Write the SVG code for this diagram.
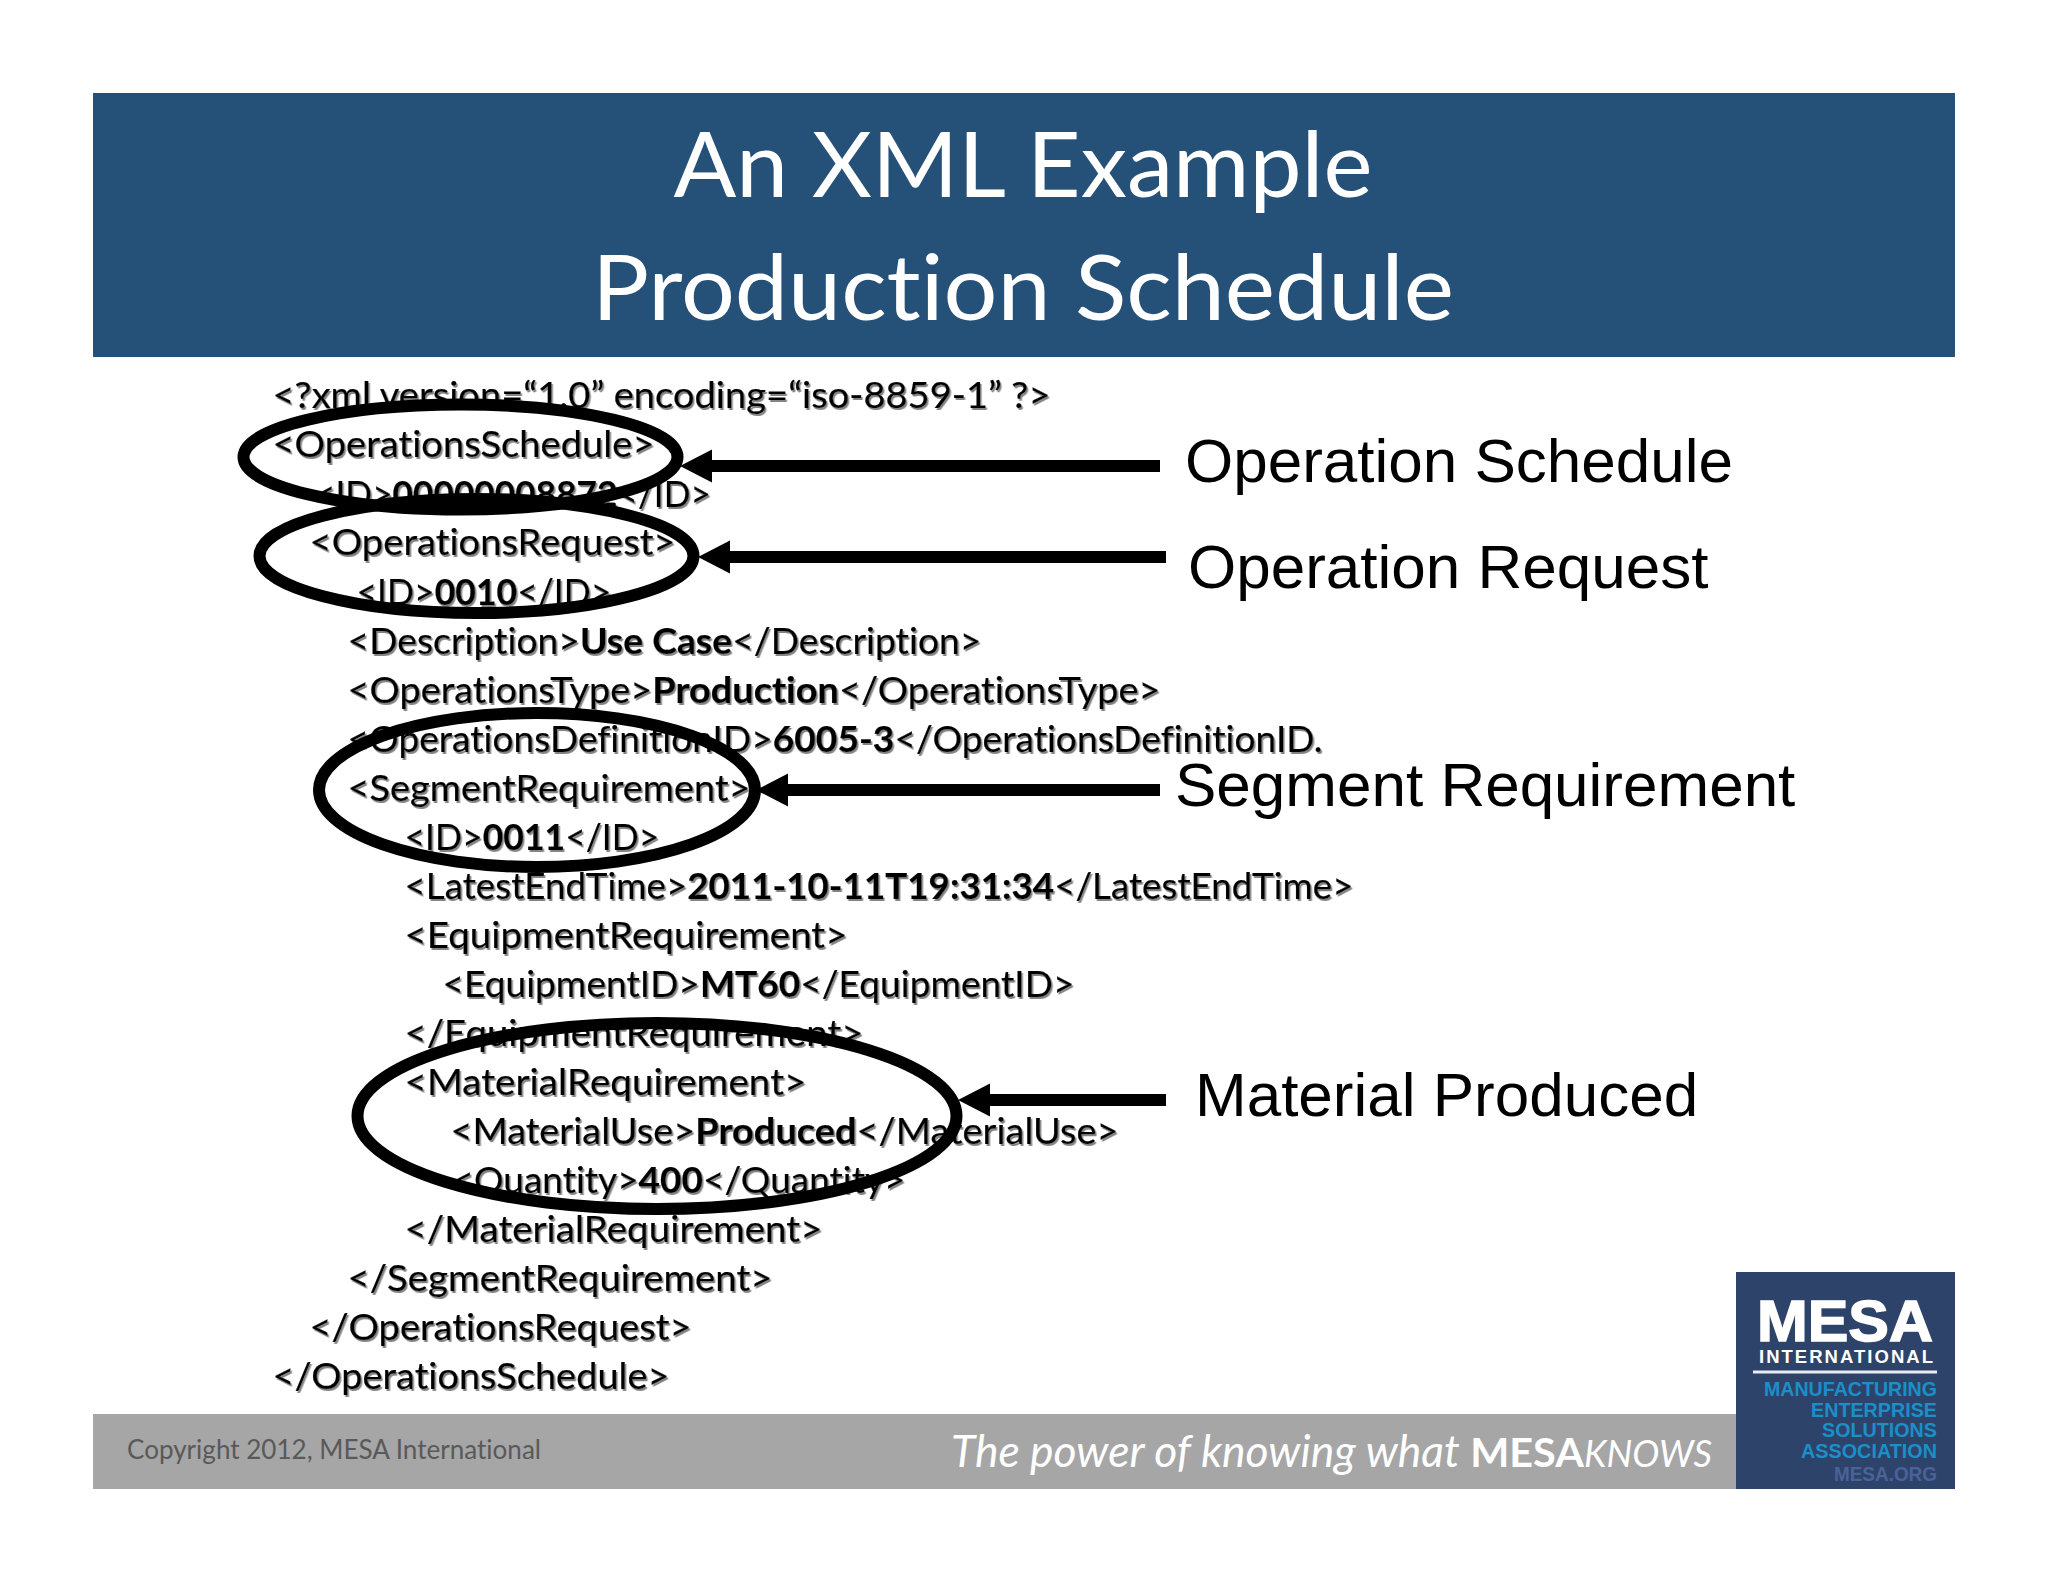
<svg xmlns="http://www.w3.org/2000/svg" width="2048" height="1582" viewBox="0 0 2048 1582">
<style>
text{font-family:"Lato","Carlito","Liberation Sans",sans-serif;font-variant-ligatures:none}
.title{font-size:92px;fill:#fff;text-anchor:middle}
.x{font-size:37px;fill:#000;stroke:#000;stroke-width:.2}
.x tspan{font-weight:700}
.lab{font-family:"Liberation Sans",Arial,sans-serif;font-size:62px;fill:#000}
.ring{fill:none;stroke:#000;stroke-width:12}
.conn{stroke:#000;stroke-width:12;fill:none;marker-end:url(#head)}
.lg{font-family:"Liberation Sans",Arial,sans-serif;font-weight:700}
.bl{font-size:20px;fill:#1a8fc9;text-anchor:end}
</style>
<defs>
<marker id="head" markerUnits="userSpaceOnUse" markerWidth="34" markerHeight="36" refX="1" refY="18" orient="auto"><path d="M0 1.500L32 18L0 34.500Z" fill="#000"/></marker>
<filter id="sh" x="-5%" y="-5%" width="110%" height="110%"><feDropShadow dx="1.500" dy="2" stdDeviation="0.500" flood-color="#777" flood-opacity="0.9"/></filter>
</defs>
<rect width="2048" height="1582" fill="#fff"/>
<g id="header">
<rect x="93" y="93" width="1862" height="264" fill="#255077"/>
<text class="title" x="1023" y="197" textLength="699" lengthAdjust="spacingAndGlyphs">An XML Example</text>
<text class="title" x="1023" y="320" textLength="862" lengthAdjust="spacingAndGlyphs">Production Schedule</text>
</g>
<g id="xml" filter="url(#sh)">
<text class="x" x="272.500" y="408" textLength="778" lengthAdjust="spacingAndGlyphs">&lt;?xml version=“1.0” encoding=“iso-8859-1” ?&gt;</text>
<text class="x" x="272.500" y="457" textLength="382" lengthAdjust="spacingAndGlyphs">&lt;OperationsSchedule&gt;</text>
<text class="x" x="315" y="507" textLength="396" lengthAdjust="spacingAndGlyphs">&lt;ID&gt;<tspan>00000008872</tspan>&lt;/ID&gt;</text>
<text class="x" x="309.500" y="555" textLength="366" lengthAdjust="spacingAndGlyphs">&lt;OperationsRequest&gt;</text>
<text class="x" x="356.500" y="605" textLength="255" lengthAdjust="spacingAndGlyphs">&lt;ID&gt;<tspan>0010</tspan>&lt;/ID&gt;</text>
<text class="x" x="347.500" y="654" textLength="634" lengthAdjust="spacingAndGlyphs">&lt;Description&gt;<tspan>Use Case</tspan>&lt;/Description&gt;</text>
<text class="x" x="347.500" y="703" textLength="813" lengthAdjust="spacingAndGlyphs">&lt;OperationsType&gt;<tspan>Production</tspan>&lt;/OperationsType&gt;</text>
<text class="x" x="347.500" y="752" textLength="975" lengthAdjust="spacingAndGlyphs">&lt;OperationsDefinitionID&gt;<tspan>6005-3</tspan>&lt;/OperationsDefinitionID.</text>
<text class="x" x="347.500" y="801" textLength="403" lengthAdjust="spacingAndGlyphs">&lt;SegmentRequirement&gt;</text>
<text class="x" x="404.500" y="850" textLength="255" lengthAdjust="spacingAndGlyphs">&lt;ID&gt;<tspan>0011</tspan>&lt;/ID&gt;</text>
<text class="x" x="404.500" y="899" textLength="949" lengthAdjust="spacingAndGlyphs">&lt;LatestEndTime&gt;<tspan>2011-10-11T19:31:34</tspan>&lt;/LatestEndTime&gt;</text>
<text class="x" x="404.500" y="948" textLength="443" lengthAdjust="spacingAndGlyphs">&lt;EquipmentRequirement&gt;</text>
<text class="x" x="442.500" y="997" textLength="632" lengthAdjust="spacingAndGlyphs">&lt;EquipmentID&gt;<tspan>MT60</tspan>&lt;/EquipmentID&gt;</text>
<text class="x" x="404.500" y="1046" textLength="459" lengthAdjust="spacingAndGlyphs">&lt;/EquipmentRequirement&gt;</text>
<text class="x" x="404.500" y="1095" textLength="402" lengthAdjust="spacingAndGlyphs">&lt;MaterialRequirement&gt;</text>
<text class="x" x="450.500" y="1144" textLength="668" lengthAdjust="spacingAndGlyphs">&lt;MaterialUse&gt;<tspan>Produced</tspan>&lt;/MaterialUse&gt;</text>
<text class="x" x="452.500" y="1193" textLength="453" lengthAdjust="spacingAndGlyphs">&lt;Quantity&gt;<tspan>400</tspan>&lt;/Quantity&gt;</text>
<text class="x" x="404.500" y="1242" textLength="418" lengthAdjust="spacingAndGlyphs">&lt;/MaterialRequirement&gt;</text>
<text class="x" x="347.500" y="1291" textLength="425" lengthAdjust="spacingAndGlyphs">&lt;/SegmentRequirement&gt;</text>
<text class="x" x="309.500" y="1340" textLength="382" lengthAdjust="spacingAndGlyphs">&lt;/OperationsRequest&gt;</text>
<text class="x" x="272.500" y="1389" textLength="397" lengthAdjust="spacingAndGlyphs">&lt;/OperationsSchedule&gt;</text>
</g>
<g id="node-operation-schedule"><ellipse class="ring" cx="460.500" cy="457" rx="217" ry="52.500"/><text class="lab" x="1185" y="482">Operation Schedule</text></g>
<g id="node-operation-request"><ellipse class="ring" cx="476.500" cy="556" rx="217" ry="57"/><text class="lab" x="1188" y="588">Operation Request</text></g>
<g id="node-segment-requirement"><ellipse class="ring" cx="537" cy="790" rx="218" ry="77"/><text class="lab" x="1175" y="806">Segment Requirement</text></g>
<g id="node-material-produced"><ellipse class="ring" cx="657" cy="1116" rx="299.500" ry="93"/><text class="lab" x="1195" y="1116">Material Produced</text></g>
<g id="connectors">
<line class="conn" x1="1160" y1="466" x2="711" y2="466"/>
<line class="conn" x1="1166" y1="557" x2="729" y2="557"/>
<line class="conn" x1="1160" y1="790" x2="787" y2="790"/>
<line class="conn" x1="1166" y1="1100" x2="989" y2="1100"/>
</g>
<g id="footer">
<rect x="93" y="1414" width="1643" height="75" fill="#a6a6a6"/>
<text x="127" y="1459" font-size="27" fill="#595959" textLength="414" lengthAdjust="spacingAndGlyphs">Copyright 2012, MESA International</text>
<text x="951" y="1467" font-size="44" fill="#fff" font-style="italic" textLength="761" lengthAdjust="spacingAndGlyphs">The power of knowing what <tspan font-weight="700" font-style="normal" font-size="41">MESA</tspan><tspan font-size="36">KNOWS</tspan></text>
</g>
<g id="logo">
<rect x="1736" y="1272" width="219" height="217" fill="#2e4369"/>
<text class="lg" x="1757" y="1341" font-size="58" fill="#fff" textLength="176" lengthAdjust="spacingAndGlyphs" stroke="#fff" stroke-width="1.500">MESA</text>
<text class="lg" x="1759" y="1363" font-size="18.500" fill="#fff" textLength="174" lengthAdjust="spacing">INTERNATIONAL</text>
<rect x="1753" y="1370.500" width="184" height="3" fill="#e8ecf2"/>
<text class="lg bl" x="1937" y="1396" textLength="173" lengthAdjust="spacingAndGlyphs">MANUFACTURING</text>
<text class="lg bl" x="1937" y="1417" textLength="126" lengthAdjust="spacingAndGlyphs">ENTERPRISE</text>
<text class="lg bl" x="1937" y="1437" textLength="115" lengthAdjust="spacingAndGlyphs">SOLUTIONS</text>
<text class="lg bl" x="1937" y="1458" textLength="136" lengthAdjust="spacingAndGlyphs">ASSOCIATION</text>
<text class="lg bl" x="1937" y="1481" textLength="103" lengthAdjust="spacingAndGlyphs" style="fill:#4a629a">MESA.ORG</text>
</g>
</svg>
